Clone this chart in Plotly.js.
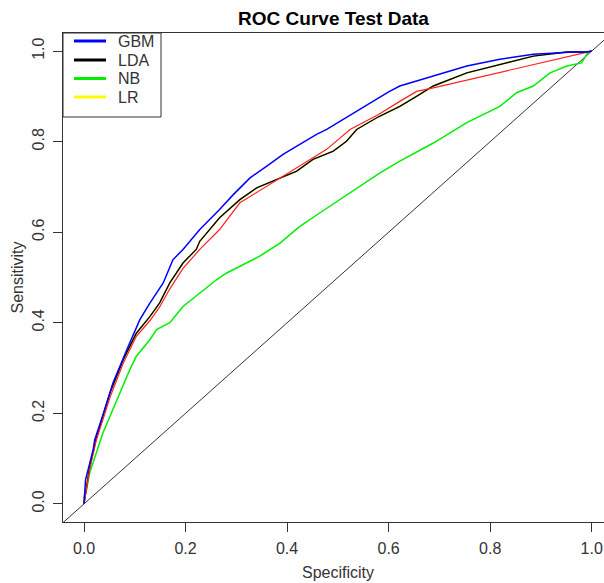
<!DOCTYPE html>
<html>
<head>
<meta charset="utf-8">
<script src="https://cdn.plot.ly/plotly-3.0.1.min.js"></script>
<style>html,body{margin:0;padding:0;background:#fff}#chart{width:604px;height:583px}</style>
</head>
<body>
<div id="chart"></div>
<script>
// GBM (blue)
const gbmX = [0, 0.003, 0.018, 0.021, 0.037, 0.047, 0.057, 0.084, 0.11, 0.13, 0.156, 0.175, 0.195, 0.228, 0.267, 0.294, 0.327, 0.36, 0.392, 0.425, 0.458, 0.478, 0.5, 0.543, 0.58, 0.6, 0.622, 0.688, 0.754, 0.819, 0.885, 0.964, 0.99, 1];
const gbmY = [0, 0.053, 0.12, 0.141, 0.196, 0.23, 0.267, 0.34, 0.407, 0.444, 0.488, 0.539, 0.562, 0.606, 0.65, 0.683, 0.72, 0.746, 0.772, 0.794, 0.816, 0.827, 0.842, 0.872, 0.897, 0.91, 0.923, 0.945, 0.967, 0.982, 0.993, 0.998, 0.998, 1];
// LDA (black)
const ldaX = [0, 0.011, 0.024, 0.051, 0.077, 0.103, 0.13, 0.149, 0.169, 0.195, 0.221, 0.228, 0.267, 0.307, 0.34, 0.379, 0.419, 0.451, 0.491, 0.517, 0.537, 0.58, 0.622, 0.655, 0.688, 0.754, 0.819, 0.885, 0.951, 0.99, 1];
const ldaY = [0, 0.082, 0.145, 0.245, 0.318, 0.377, 0.414, 0.444, 0.488, 0.532, 0.562, 0.58, 0.632, 0.672, 0.698, 0.716, 0.735, 0.761, 0.779, 0.801, 0.827, 0.855, 0.878, 0.9, 0.923, 0.952, 0.971, 0.989, 0.998, 0.998, 1];
// LR (yellow)
const lrX = ldaX;
const lrY = ldaY;
// NB (green)
const nbX = [0, 0.0, 0.005, 0.011, 0.024, 0.037, 0.051, 0.07, 0.09, 0.103, 0.13, 0.143, 0.169, 0.195, 0.228, 0.261, 0.281, 0.32, 0.346, 0.386, 0.425, 0.465, 0.504, 0.543, 0.583, 0.622, 0.688, 0.754, 0.819, 0.852, 0.885, 0.918, 0.951, 0.98, 0.987, 0.993, 1];
const nbY = [0, 0.016, 0.031, 0.068, 0.112, 0.156, 0.193, 0.245, 0.296, 0.326, 0.363, 0.385, 0.4, 0.436, 0.466, 0.495, 0.51, 0.532, 0.547, 0.576, 0.613, 0.643, 0.672, 0.702, 0.731, 0.757, 0.797, 0.842, 0.878, 0.908, 0.923, 0.952, 0.967, 0.974, 0.988, 0.998, 1];
// Unlabelled red curve
const redX = [0, 0.011, 0.024, 0.051, 0.077, 0.103, 0.13, 0.149, 0.169, 0.195, 0.228, 0.267, 0.307, 0.36, 0.425, 0.478, 0.524, 0.58, 0.622, 0.655, 0.688, 1];
const redY = [0, 0.075, 0.14, 0.235, 0.31, 0.37, 0.405, 0.435, 0.475, 0.52, 0.562, 0.606, 0.665, 0.702, 0.746, 0.783, 0.827, 0.86, 0.889, 0.911, 0.919, 1];
// Reference diagonal
const diagX = [-0.2, 1.2];
const diagY = [-0.2, 1.2];
const xTicks = [0, 0.2, 0.4, 0.6, 0.8, 1.0];
const xTickText = ['0.0', '0.2', '0.4', '0.6', '0.8', '1.0'];
const yTicks = [0, 0.2, 0.4, 0.6, 0.8, 1.0];
const yTickText = ['0.0', '0.2', '0.4', '0.6', '0.8', '1.0'];
const legendNames = ['GBM', 'LDA', 'NB', 'LR'];
const legendColors = ['#0000ff', '#000000', '#00ee00', '#ffff00'];

const FONT = 'Liberation Sans, Arial, sans-serif';
const W = 604, H = 583, ML = 63, MT = 33, MB = 61;
const PW = W - ML, PH = H - MT - MB;
const px2paperX = p => (p - ML) / PW;
const px2paperY = p => (H - MB - p) / PH;

const traces = [
  {x: diagX, y: diagY, mode: 'lines', line: {color: '#333', width: 1}, showlegend: false},
  {x: nbX, y: nbY, mode: 'lines', name: legendNames[2], line: {color: legendColors[2], width: 1.5}, showlegend: false},
  {x: lrX, y: lrY, mode: 'lines', name: legendNames[3], line: {color: legendColors[3], width: 1.4}, showlegend: false},
  {x: ldaX, y: ldaY, mode: 'lines', name: legendNames[1], line: {color: legendColors[1], width: 1.4}, showlegend: false},
  {x: redX, y: redY, mode: 'lines', line: {color: '#ff2020', width: 1.2}, showlegend: false},
  {x: gbmX, y: gbmY, mode: 'lines', name: legendNames[0], line: {color: legendColors[0], width: 1.5}, showlegend: false}
];

// Legend drawn as an R-style boxed key
const shapes = [
  {type: 'rect', xref: 'paper', yref: 'paper', x0: 0, x1: px2paperX(161), y0: px2paperY(117), y1: 1,
   line: {color: '#333', width: 1}, fillcolor: '#fff', layer: 'above'}
];
const annotations = [
  {text: 'Specificity', xref: 'x', yref: 'paper', x: 0.5, y: 0, yanchor: 'middle', yshift: -50, showarrow: false, font: {family: FONT, size: 16, color: '#333'}},
  {text: 'Sensitivity', xref: 'paper', yref: 'y', x: 0, y: 0.5, xanchor: 'center', xshift: -46, textangle: -90, showarrow: false, font: {family: FONT, size: 16, color: '#333'}}
];
const rowsPx = [41, 60, 78.5, 97];
legendNames.forEach((nm, i) => {
  shapes.push({type: 'line', xref: 'paper', yref: 'paper', x0: px2paperX(74), x1: px2paperX(106),
               y0: px2paperY(rowsPx[i]), y1: px2paperY(rowsPx[i]), line: {color: legendColors[i], width: 3}, layer: 'above'});
  annotations.push({text: nm, xref: 'paper', yref: 'paper', x: px2paperX(116), y: px2paperY(rowsPx[i]),
                    xanchor: 'left', yanchor: 'middle', showarrow: false, font: {family: FONT, size: 16, color: '#333'}});
});

const layout = {
  width: W, height: H,
  margin: {l: ML, r: 0, t: MT, b: MB, pad: 0},
  paper_bgcolor: '#fff', plot_bgcolor: '#fff',
  font: {family: FONT, size: 16, color: '#333'},
  title: {text: '<b>ROC Curve Test Data</b>', font: {family: FONT, size: 19, color: '#000'}, x: 0.5, xref: 'paper', y: 1 - 18/583, yref: 'container', yanchor: 'middle'},
  xaxis: {range: [-0.0414, 1.0242], tickvals: xTicks, ticktext: xTickText, ticks: 'outside', ticklen: 9, tickcolor: '#333', tickwidth: 1,
          showline: true, mirror: true, linecolor: '#333', linewidth: 1, showgrid: false, zeroline: false, ticklabelstandoff: 3,
          tickfont: {family: FONT, size: 16, color: '#333'}, fixedrange: true},
  yaxis: {range: [-0.04, 1.04], tickvals: yTicks, ticktext: yTickText, ticks: 'outside', ticklen: 9, tickcolor: '#333', tickwidth: 1,
          showline: true, mirror: false, linecolor: '#333', linewidth: 1, showgrid: false, zeroline: false, tickangle: -90, ticklabelstandoff: 3,
          tickfont: {family: FONT, size: 16, color: '#333'}, fixedrange: true},
  shapes: shapes,
  annotations: annotations,
  showlegend: false
};
Plotly.newPlot('chart', traces, layout, {displayModeBar: false, staticPlot: true});
</script>
</body>
</html>
